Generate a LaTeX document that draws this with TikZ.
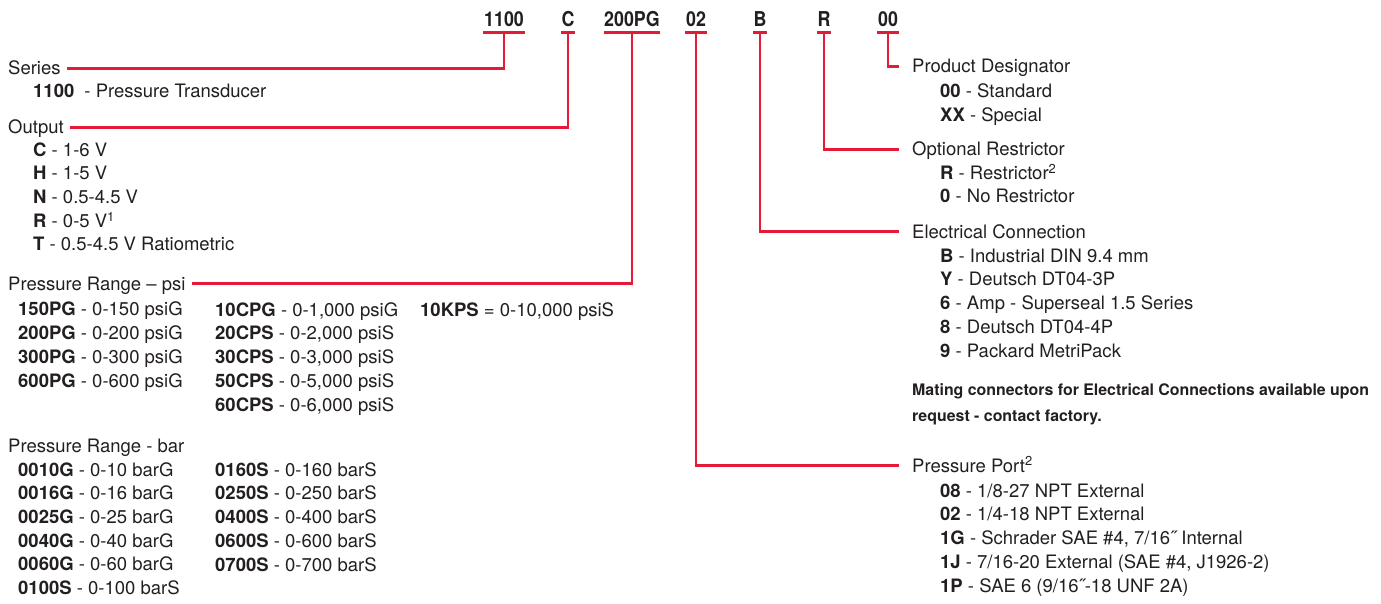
\documentclass[tikz,border=0pt]{standalone}
\usepackage{fontspec}
\setmainfont{TeX Gyre Heros}
\newfontfamily\codefont{TeX Gyre Heros}[FakeStretch=0.87]
\usetikzlibrary{positioning}
\definecolor{leadred}{RGB}{228,26,55}
\definecolor{ink}{RGB}{35,31,32}

\begin{document}
\begin{tikzpicture}[x=1pt,y=-1pt,
  code/.style={font=\codefont\fontsize{20.5}{24}\selectfont\bfseries, text=ink, anchor=base, inner xsep=0.5pt, inner ysep=5.5pt, text depth=0pt},
  codebar/.style={leadred, line width=3pt},
  lead/.style={leadred, line width=2.6pt},
  leadright/.style={lead, shorten >=7pt},
  head/.style={font=\fontsize{18.5}{23.7}\selectfont, text=ink, anchor=base west, inner xsep=6pt, inner ysep=0pt, text height=13.5pt, text depth=0pt},
  list/.style={font=\fontsize{18.5}{23.7}\selectfont, text=ink, anchor=base west, inner sep=0pt, align=left},
  note/.style={font=\fontsize{15.9}{26}\selectfont\bfseries, text=ink, anchor=base west, inner sep=0pt, align=left}]

\useasboundingbox (0,0) rectangle (1381,604);

% part number
\node[code] (c1100) at (504,27) {1100};
\node[code] (cC) at (568,27) {C};
\node[code] (cPG) at (632,27) {200PG};
\node[code] (c02) at (696,27) {02};
\node[code] (cB) at (760,27) {B};
\node[code] (cR) at (824,27) {R};
\node[code] (c00) at (888,27) {00};

\draw[codebar] (c1100.south west)--(c1100.south east);
\draw[codebar] (cC.south west)--(cC.south east);
\draw[codebar] (cPG.south west)--(cPG.south east);
\draw[codebar] (c02.south west)--(c02.south east);
\draw[codebar] (cB.south west)--(cB.south east);
\draw[codebar] (cR.south west)--(cR.south east);
\draw[codebar] (c00.south west)--(c00.south east);

% left column (lists sit on the baseline of their last line)
\node[head] (series) at (2,75) {Series};
\node[list] (serieslist) at (33,98) {\textbf{1100}\hspace{5pt} - Pressure Transducer};

\node[head] (output) at (2,134) {Output};
\node[list] (outlist) at (33,251) {\textbf{C} - 1-6 V\\
\textbf{H} - 1-5 V\\
\textbf{N} - 0.5-4.5 V\\
\textbf{R} - 0-5 V\textsuperscript{1}\\
\textbf{T} - 0.5-4.5 V Ratiometric};

\node[head] (psihead) at (2,290) {Pressure Range – psi};
\node[list] (psiA) at (18,387) {\textbf{150PG} - 0-150 psiG\\
\textbf{200PG} - 0-200 psiG\\
\textbf{300PG} - 0-300 psiG\\
\textbf{600PG} - 0-600 psiG};
\node[list] (psiB) at (215,411) {\textbf{10CPG} - 0-1,000 psiG\\
\textbf{20CPS} - 0-2,000 psiS\\
\textbf{30CPS} - 0-3,000 psiS\\
\textbf{50CPS} - 0-5,000 psiS\\
\textbf{60CPS} - 0-6,000 psiS};
\node[list] (psiC) at (420,316) {\textbf{10KPS} = 0-10,000 psiS};

\node[head] (barhead) at (2,452) {Pressure Range - bar};
\node[list] (barA) at (18,594.5) {\textbf{0010G} - 0-10 barG\\
\textbf{0016G} - 0-16 barG\\
\textbf{0025G} - 0-25 barG\\
\textbf{0040G} - 0-40 barG\\
\textbf{0060G} - 0-60 barG\\
\textbf{0100S} - 0-100 barS};
\node[list] (barB) at (215,571) {\textbf{0160S} - 0-160 barS\\
\textbf{0250S} - 0-250 barS\\
\textbf{0400S} - 0-400 barS\\
\textbf{0600S} - 0-600 barS\\
\textbf{0700S} - 0-700 barS};

% right column
\node[head] (prod) at (906,73) {Product Designator};
\node[list] (prodlist) at (940,121.7) {\textbf{00} - Standard\\
\textbf{XX} - Special};

\node[head] (restr) at (906,156) {Optional Restrictor};
\node[list] (restrlist) at (940,203) {\textbf{R} - Restrictor\textsuperscript{2}\\
\textbf{0} - No Restrictor};

\node[head] (elec) at (906,238) {Electrical Connection};
\node[list] (eleclist) at (940,357) {\textbf{B} - Industrial DIN 9.4 mm\\
\textbf{Y} - Deutsch DT04-3P\\
\textbf{6} - Amp - Superseal 1.5 Series\\
\textbf{8} - Deutsch DT04-4P\\
\textbf{9} - Packard MetriPack};
\node[note] (mating) at (912,421) {Mating connectors for Electrical Connections available upon\\
request - contact factory.};

\node[head] (port) at (906,472) {Pressure Port\textsuperscript{2}};
\node[list] (portlist) at (940,592) {\textbf{08} - 1/8-27 NPT External\\
\textbf{02} - 1/4-18 NPT External\\
\textbf{1G} - Schrader SAE \#4, 7/16˝ Internal\\
\textbf{1J} - 7/16-20 External (SAE \#4, J1926-2)\\
\textbf{1P} - SAE 6 (9/16˝-18 UNF 2A)};

% leads
\draw[lead] (c1100.south) |- (series.east);
\draw[lead] (cC.south) |- (output.east);
\draw[lead] (cPG.south) |- (psihead.east);
\draw[leadright] (c02.south) |- (port.west);
\draw[leadright] (cB.south) |- (elec.west);
\draw[leadright] (cR.south) |- (restr.west);
\draw[leadright] (c00.south) |- (prod.west);

\end{tikzpicture}
\end{document}
